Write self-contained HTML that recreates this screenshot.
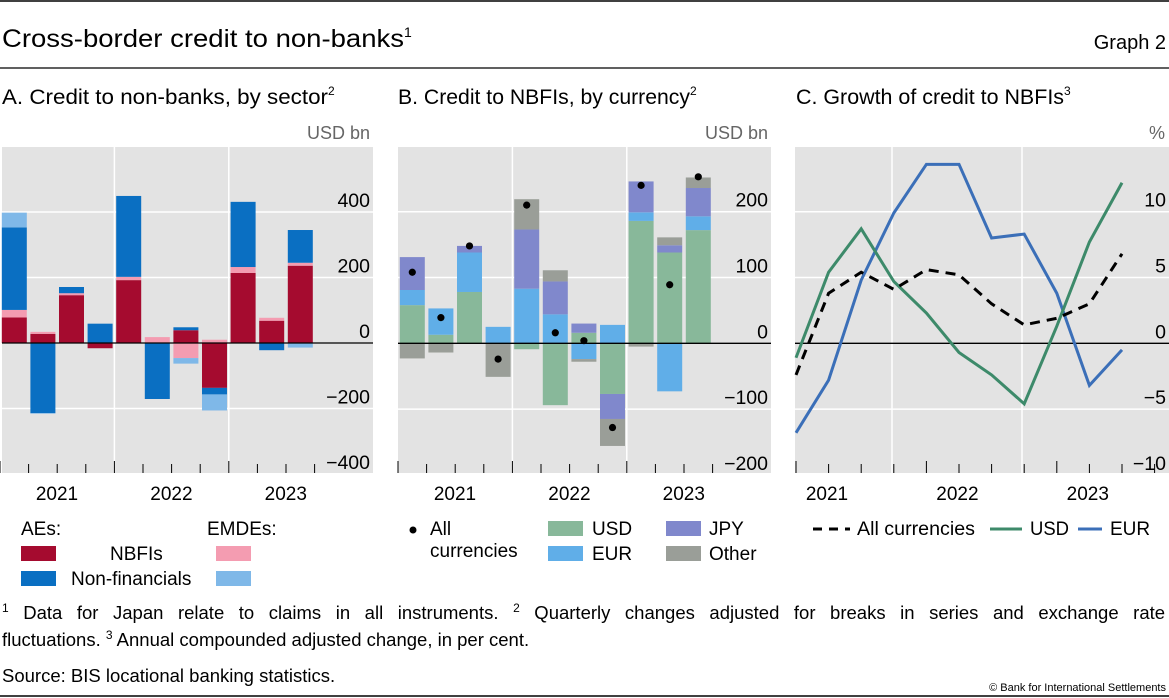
<!DOCTYPE html>
<html><head><meta charset="utf-8"><style>
html,body{margin:0;padding:0;background:#fff;}
svg{display:block;font-family:"Liberation Sans",sans-serif;}
</style></head><body>
<svg id="chart" width="1169" height="698" viewBox="0 0 1169 698" xmlns="http://www.w3.org/2000/svg">
<line x1="0" y1="1" x2="1169" y2="1" stroke="#000" stroke-width="1.5"/>
<text x="2" y="47" font-size="25"><tspan textLength="402" lengthAdjust="spacingAndGlyphs">Cross-border credit to non-banks</tspan><tspan font-size="14" dy="-10">1</tspan></text>
<text x="1166" y="49" font-size="20" text-anchor="end">Graph 2</text>
<line x1="0" y1="68" x2="1169" y2="68" stroke="#000" stroke-width="1.2"/>
<text x="2" y="104" font-size="21"><tspan textLength="326" lengthAdjust="spacingAndGlyphs">A. Credit to non-banks, by sector</tspan><tspan font-size="12" dy="-9">2</tspan></text>
<text x="398" y="104" font-size="21"><tspan textLength="292" lengthAdjust="spacingAndGlyphs">B. Credit to NBFIs, by currency</tspan><tspan font-size="12" dy="-9">2</tspan></text>
<text x="796" y="104" font-size="21"><tspan textLength="268" lengthAdjust="spacingAndGlyphs">C. Growth of credit to NBFIs</tspan><tspan font-size="12" dy="-9">3</tspan></text>
<text x="370" y="139" font-size="18" fill="#666" text-anchor="end">USD bn</text>
<text x="768" y="139" font-size="18" fill="#666" text-anchor="end">USD bn</text>
<text x="1165" y="139" font-size="18" fill="#666" text-anchor="end">%</text>
<g id="pa"></g><g id="pb"></g><g id="pc"></g>

<!-- Legends -->
<text x="21" y="535" font-size="19">AEs:</text>
<text x="207" y="535" font-size="19">EMDEs:</text>
<rect x="21" y="546" width="35" height="15" fill="#a50b2f"/>
<rect x="216" y="546" width="35" height="15" fill="#f49cb1"/>
<text x="110" y="560" font-size="19">NBFIs</text>
<rect x="21" y="571" width="35" height="15" fill="#0a6fc2"/>
<rect x="216" y="571" width="35" height="15" fill="#7fb8e8"/>
<text x="71" y="585" font-size="19">Non-financials</text>

<circle cx="413" cy="530" r="3.5" fill="#000"/>
<text x="430" y="535" font-size="19">All</text>
<text x="430" y="557" font-size="19">currencies</text>
<rect x="548" y="521" width="35" height="15" fill="#88b89a"/>
<text x="592" y="535" font-size="19">USD</text>
<rect x="548" y="546" width="35" height="15" fill="#60aee8"/>
<text x="592" y="560" font-size="19">EUR</text>
<rect x="666" y="521" width="35" height="15" fill="#8088cc"/>
<text x="709" y="535" font-size="19">JPY</text>
<rect x="666" y="546" width="35" height="15" fill="#9a9e98"/>
<text x="709" y="560" font-size="19">Other</text>

<line x1="813" y1="529" x2="850" y2="529" stroke="#000" stroke-width="3" stroke-dasharray="9,7"/>
<text x="857" y="535" font-size="19" textLength="118" lengthAdjust="spacingAndGlyphs">All currencies</text>
<line x1="990" y1="529" x2="1022" y2="529" stroke="#3d8a6a" stroke-width="3"/>
<text x="1030" y="535" font-size="19" textLength="39" lengthAdjust="spacingAndGlyphs">USD</text>
<line x1="1078" y1="529" x2="1102" y2="529" stroke="#3b6fb8" stroke-width="3"/>
<text x="1110" y="535" font-size="19">EUR</text>

<text id="fn1" x="2" y="619" font-size="18.5"><tspan font-size="12" dy="-7">1</tspan><tspan dy="7"> Data for Japan relate to claims in all instruments. </tspan><tspan font-size="12" dy="-7">2</tspan><tspan dy="7"> Quarterly changes adjusted for breaks in series and exchange rate</tspan></text>
<text x="2" y="646" font-size="18.5">fluctuations.   <tspan font-size="12" dy="-7">3</tspan><tspan dy="7"> Annual compounded adjusted change, in per cent.</tspan></text>
<text x="2" y="682" font-size="18.5">Source: BIS locational banking statistics.</text>
<text x="1166" y="691" font-size="11" text-anchor="end">© Bank for International Settlements</text>
<line x1="0" y1="696" x2="1169" y2="696" stroke="#000" stroke-width="1.5"/>
</svg>
<script>
// Panel A data (USD bn), quarters 2021Q1..2023Q3
const aYears = ["2021","2022","2023"];
const aNbfiAE = [78, 28, 146, -16, 192, 0, 39, -137, 214, 68, 236];
const aNbfiEM = [23, 6, 6, 0, 10, 18, -46, 10, 18, 9, 9];
const aNonfinAE = [252, -214, 19, 59, 247, -171, 9, -20, 199, -22, 100];
const aNonfinEM = [45, -2, 0, 0, 0, 0, -17, -49, 0, 0, -14];
const aTicks = [400, 200, 0, -200, -400];
// Panel B data (USD bn)
const bUSD = [58, 13, 78, 0, -9, -94, 16, -77, 186, 138, 172];
const bEUR = [23, 40, 60, 25, 83, 44, -24, 28, 13, -73, 21];
const bJPY = [50, 0, 10, 0, 90, 50, 14, -38, 47, 11, 43];
const bOther = [-23, -14, 0, -51, 46, 17, -4, -41, -5, 12, 16];
const bAll = [108, 39, 148, -24, 210, 16, 4, -128, 240, 89, 253];
const bTicks = [200, 100, 0, -100, -200];
// Panel C data (%), points 2020Q4..2023Q3
const cAll = [-2.4, 3.8, 5.4, 4.1, 5.6, 5.2, 3.0, 1.4, 1.9, 3.0, 6.8];
const cUSD = [-1.1, 5.4, 8.7, 4.7, 2.3, -0.7, -2.4, -4.6, 1.3, 7.7, 12.2];
const cEUR = [-6.8, -2.8, 4.8, 9.9, 13.6, 13.6, 8.0, 8.3, 3.8, -3.2, -0.5];
const cTicks = [10, 5, 0, -5, -10];

const NS = "http://www.w3.org/2000/svg";
function mk(parent, tag, attrs) {
  const e = document.createElementNS(NS, tag);
  for (const k in attrs) e.setAttribute(k, attrs[k]);
  parent.appendChild(e);
  return e;
}
function frame(g, x0, x1, yTop, yBot, yScale, ticks, tickFmt, yearX, nQ, qx, yearLabelX) {
  const bg = mk(g, "rect", {x: x0, y: yTop, width: x1 - x0, height: yBot - yTop, fill: "#e3e3e3"});
  
  
  ticks.forEach(t => {
    const y = yScale(t);
    if (t !== 0 && y > yTop + 2 && y < yBot - 2) {
      const gl = mk(g, "line", {x1: x0, x2: x1, y1: y, y2: y, stroke: "#fff", "stroke-width": 1.5});
      
      
    }
  });
  yearX.forEach(x => {
    const vl = mk(g, "line", {x1: x, x2: x, y1: yTop, y2: yBot, stroke: "#fff", "stroke-width": 1.5});
    
    
  });
  ticks.forEach(t => {
    const y = yScale(t);
    const tl = mk(g, "text", {x: x1 - 3, y: y - 5, "font-size": 19.5, "text-anchor": "end"});
    tl.textContent = tickFmt(t);
    
    
  });
  for (let i = 0; i < nQ; i++) {
    const x = qx(i);
    const major = i % 4 === 0;
    const tk = mk(g, "line", {x1: x, x2: x, y1: major ? yBot - 12 : yBot - 9, y2: yBot, stroke: "#000", "stroke-width": 1});
    
    
  }
  aYears.forEach((yr, i) => {
    const t = mk(g, "text", {x: yearLabelX(i), y: 500, "font-size": 19, "text-anchor": "middle"});
    t.textContent = yr;
    
    
  });
  const zl = mk(g, "line", {x1: x0, x2: x1, y1: yScale(0), y2: yScale(0), stroke: "#000", "stroke-width": 1.3});
  
  
  return zl;
}
const fmt = t => t < 0 ? "\u2212" + Math.abs(t) : String(t);

function stacked(g, series, colors, names, xLeft, w, yScale) {
  const n = series[0].length;
  for (let i = 0; i < n; i++) {
    let pos = 0, neg = 0;
    series.forEach((s, k) => {
      const v = s[i];
      if (!v) return;
      let y0, y1;
      if (v > 0) { y0 = pos; y1 = pos + v; pos = y1; } else { y0 = neg; y1 = neg + v; neg = y1; }
      const top = Math.min(yScale(y0), yScale(y1));
      const r = mk(g, "rect", {x: xLeft(i), y: top, width: w, height: Math.abs(yScale(y0) - yScale(y1)), fill: colors[k]});
      
      
    });
  }
}

// Panel A
(function(){
  const g = document.getElementById("pa");
  const y = v => 343 - v * 0.3275;
  const qw = 28.6, x0 = 0;
  const qx = i => x0 + i * qw;
  const zl = frame(g, 2, 373, 147, 473, y, aTicks, fmt, [114.4, 228.8], 12, qx, i => 57 + i * 114.4);
  stacked(g, [aNbfiAE, aNbfiEM, aNonfinAE, aNonfinEM], ["#a50b2f", "#f49cb1", "#0a6fc2", "#7fb8e8"],
    ["ae-nbfi", "emde-nbfi", "ae-nonfin", "emde-nonfin"], i => qx(i) + 1.8, 25, y);
  g.appendChild(zl);
})();

// Panel B
(function(){
  const g = document.getElementById("pb");
  const y = v => 343.3 - v * 0.658;
  const qw = 28.6, x0 = 398;
  const qx = i => x0 + i * qw;
  const zl = frame(g, 398, 771, 147, 473, y, bTicks, fmt, [512.4, 626.8], 12, qx, i => 455 + i * 114.4);
  stacked(g, [bUSD, bEUR, bJPY, bOther], ["#88b89a", "#60aee8", "#8088cc", "#9a9e98"],
    ["usd", "eur", "jpy", "other"], i => qx(i) + 1.8, 25, y);
  g.appendChild(zl);
  bAll.forEach((v, i) => {
    const c = mk(g, "circle", {cx: qx(i) + 14.3, cy: y(v), r: 3.6, fill: "#000"});
    
    
  });
})();

// Panel C
(function(){
  const g = document.getElementById("pc");
  const y = v => 343.3 - v * 13.16;
  const qw = 32.6, x0 = 796;
  const qx = i => x0 + i * qw;
  frame(g, 795, 1169, 147, 473, y, cTicks, fmt, [892, 1022], 12, i => qx(i), i => 827 + i * 130.4);
  const line = (data, color, name, dash) => {
    const p = mk(g, "polyline", {points: data.map((v, i) => qx(i) + "," + y(v)).join(" "), fill: "none", stroke: color, "stroke-width": 3, "stroke-linejoin": "miter"});
    if (dash) p.setAttribute("stroke-dasharray", "10,7");
    
    
  };
  line(cEUR, "#3b6fb8", "eur-line");
  line(cUSD, "#3d8a6a", "usd-line");
  line(cAll, "#000", "all-currencies-line", true);
})();

// justify footnote line 1 via word spacing
(function(){
  const t = document.getElementById("fn1");
  const w = t.getComputedTextLength();
  const spaces = (t.textContent.match(/ /g) || []).length;
  if (spaces > 0 && w < 1163) t.setAttribute("word-spacing", ((1163 - w) / spaces).toFixed(2));
})();
</script>
</body></html>
